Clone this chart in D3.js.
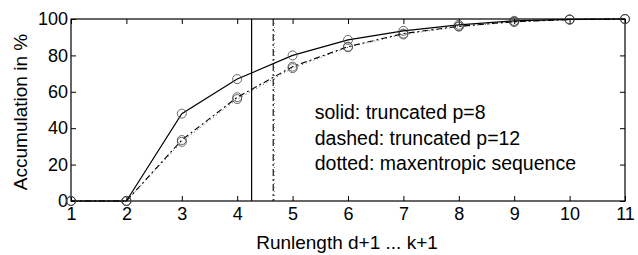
<!DOCTYPE html>
<html>
<head>
<meta charset="utf-8">
<script src="https://cdn.jsdelivr.net/npm/d3@7"></script>
<style>
  body { margin: 0; background: #fff; }
  text { font-family: "Liberation Sans", Arial, sans-serif; fill: #000; }
</style>
</head>
<body>
<svg id="chart" width="638" height="255"></svg>
<script>
// runlength positions d+1 ... k+1
const runlengths = [1, 2, 3, 4, 5, 6, 7, 8, 9, 10, 11];
// accumulated percentages
const solidP8 = [0, 0, 48, 67, 80, 88.5, 93.5, 96.8, 99, 99.8, 100];
const dashedP12 = [0, 0, 33.5, 57, 73.8, 84.8, 92, 96, 98.5, 99.7, 100];
const dottedMaxent = [0, 0, 32.5, 56, 73, 84.5, 91.5, 95.8, 98.4, 99.6, 100];
// mean runlength markers
const meanSolid = 4.26;
const meanDashed = 4.65;
const meanDotted = 4.67;
const xTicks = [1, 2, 3, 4, 5, 6, 7, 8, 9, 10, 11];
const yTicks = [0, 20, 40, 60, 80, 100];
const legendLines = ["solid: truncated p=8", "dashed: truncated p=12", "dotted: maxentropic sequence"];

const svg = d3.select("#chart");
const margin = { left: 71, right: 13, top: 19, bottom: 54 };
const width = 638 - margin.left - margin.right;
const height = 255 - margin.top - margin.bottom;

const x = d3.scaleLinear().domain([1, 11]).range([0, width]);
const y = d3.scaleLinear().domain([0, 100]).range([height, 0]);

const g = svg.append("g").attr("transform", `translate(${margin.left},${margin.top})`);

// frame
g.append("rect")
  .attr("width", width).attr("height", height)
  .attr("fill", "none").attr("stroke", "#000").attr("stroke-width", 1.2);

// axes with inward ticks
const tickLen = 5;
const axBottom = g.append("g").attr("transform", `translate(0,${height})`)
  .call(d3.axisBottom(x).tickValues(xTicks).tickSizeInner(-tickLen).tickSizeOuter(0).tickPadding(6));
const axTop = g.append("g")
  .call(d3.axisTop(x).tickValues(xTicks).tickSizeInner(-tickLen).tickSizeOuter(0).tickFormat(""));
const axLeft = g.append("g")
  .call(d3.axisLeft(y).tickValues(yTicks).tickSizeInner(-tickLen).tickSizeOuter(0).tickPadding(3));
const axRight = g.append("g").attr("transform", `translate(${width},0)`)
  .call(d3.axisRight(y).tickValues(yTicks).tickSizeInner(-tickLen).tickSizeOuter(0).tickFormat(""));

[axBottom, axTop, axLeft, axRight].forEach(a => {
  a.select(".domain").remove();
  a.selectAll("line").attr("stroke", "#000");
  a.selectAll("text").attr("font-size", 18).style("font-family", "Liberation Sans, Arial, sans-serif");
});

// mean lines
g.append("line")
  .attr("x1", x(meanSolid)).attr("x2", x(meanSolid))
  .attr("y1", 0).attr("y2", height)
  .attr("stroke", "#000").attr("stroke-width", 1.2);
g.append("line")
  .attr("x1", x(meanDashed)).attr("x2", x(meanDashed))
  .attr("y1", 0).attr("y2", height)
  .attr("stroke", "#000").attr("stroke-width", 1.1)
  .attr("stroke-dasharray", "7,3,2,3");
g.append("line")
  .attr("x1", x(meanDotted)).attr("x2", x(meanDotted))
  .attr("y1", 0).attr("y2", height)
  .attr("stroke", "#555").attr("stroke-width", 0.8)
  .attr("stroke-dasharray", "1,3");

const line = d3.line().x((d, i) => x(runlengths[i])).y(d => y(d));

const series = [
  { values: dottedMaxent, dash: "1,3", w: 0.9, color: "#444" },
  { values: dashedP12, dash: "6,3,2,3", w: 1.1, color: "#000" },
  { values: solidP8, dash: null, w: 1.2, color: "#000" }
];

series.forEach(s => {
  g.append("path")
    .datum(s.values)
    .attr("d", line)
    .attr("fill", "none")
    .attr("stroke", s.color)
    .attr("stroke-width", s.w)
    .attr("stroke-dasharray", s.dash);
  g.selectAll(null)
    .data(s.values)
    .enter().append("circle")
    .attr("cx", (d, i) => x(runlengths[i]))
    .attr("cy", d => y(d))
    .attr("r", 4.5)
    .attr("fill", "none")
    .attr("stroke", "#444")
    .attr("stroke-width", 0.8);
});

// legend text
g.selectAll(".legend")
  .data(legendLines)
  .enter().append("text")
  .attr("x", x(5.4))
  .attr("y", (d, i) => 100 + i * 25.5)
  .attr("font-size", 19.5)
  .text(d => d);

// axis titles
svg.append("text")
  .attr("x", margin.left + width / 2 - 1)
  .attr("y", 249)
  .attr("text-anchor", "middle")
  .attr("font-size", 19)
  .text("Runlength d+1 ... k+1");

svg.append("text")
  .attr("transform", `translate(27,${margin.top + height / 2 + 2}) rotate(-90)`)
  .attr("text-anchor", "middle")
  .attr("font-size", 19)
  .text("Accumulation in %");
</script>
</body>
</html>
